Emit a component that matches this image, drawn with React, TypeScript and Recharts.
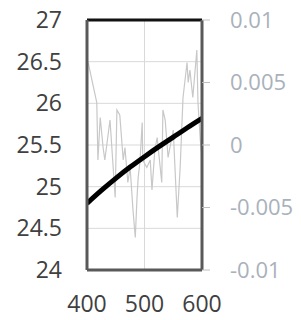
import React from "react";
import {
  CartesianGrid,
  Line,
  LineChart,
  ReferenceLine,
  XAxis,
  YAxis,
} from "recharts";

// Smooth trend (left axis)
const trendX = [400, 425, 450, 475, 500, 525, 550, 575, 600];
const trendY = [24.8, 24.955, 25.1, 25.235, 25.36, 25.48, 25.595, 25.71, 25.82];

// Noisy residual (right axis)
const noiseX = [
  402, 417, 419, 423, 428, 431, 440, 449, 452, 457, 463, 466, 471, 475, 480,
  484, 487, 489, 492, 496, 497, 504, 510, 513, 518, 522, 530, 532, 536, 541,
  550, 557, 562, 567, 574, 576, 579, 584, 591, 593, 597, 600,
];
const noiseY = [
  0.0066, 0.0034, -0.0012, 0.0022, -0.0002, -0.0012, 0.002, -0.0042, 0.0028,
  0.0024, -0.0012, -0.0002, -0.003, -0.0018, -0.0052, -0.0074, -0.0042,
  -0.0026, -0.0014, 0.0018, -0.0012, -0.0018, -0.0012, -0.0036, -0.0004,
  0.0006, -0.003, 0.0028, 0.002, -0.001, 0.0012, -0.0058, -0.0018, 0.0038,
  0.0066, 0.005, 0.006, 0.0038, 0.0076, 0.0034, 0.0004, -0.001,
];

const xTicks = [400, 500, 600];
const leftTicks = [24, 24.5, 25, 25.5, 26, 26.5, 27];
const rightTicks = [-0.01, -0.005, 0, 0.005, 0.01];

const trendData = trendX.map((x, i) => ({ x, v: trendY[i] }));
const noiseData = noiseX.map((x, i) => ({ x, v: noiseY[i] }));

const FONT = "'Open Sans', sans-serif";

export default function App() {
  return (
    <div style={{ position: "absolute", left: 0, top: 0, width: 301, height: 320 }}>
      <LineChart
        width={301}
        height={320}
        margin={{ top: 20, right: 0, bottom: 0, left: 0 }}
        style={{ fontFamily: FONT }}
      >
        <CartesianGrid yAxisId="left" stroke="#d9d9d9" strokeWidth={1} />
        <XAxis
          dataKey="x"
          type="number"
          domain={[400, 600]}
          ticks={xTicks}
          height={50}
          tickSize={0}
          tickMargin={26}
          tickLine={false}
          axisLine={{ stroke: "#595959", strokeWidth: 3 }}
          tick={{ fill: "#404040", fontSize: 23, fontFamily: FONT }}
          allowDataOverflow
        />
        <YAxis
          yAxisId="left"
          domain={[24, 27]}
          ticks={leftTicks}
          width={87}
          tickSize={0}
          tickMargin={25}
          tickLine={false}
          axisLine={{ stroke: "#595959", strokeWidth: 3 }}
          tick={{ fill: "#404040", fontSize: 23, fontFamily: FONT }}
          interval={0}
        />
        <YAxis
          yAxisId="right"
          orientation="right"
          domain={[-0.01, 0.01]}
          ticks={rightTicks}
          width={99}
          tickSize={8}
          tickMargin={20}
          tickLine={{ stroke: "#bfbfbf" }}
          axisLine={{ stroke: "#595959", strokeWidth: 3 }}
          tick={{ fill: "#a9b1bb", fontSize: 22, fontFamily: FONT }}
          interval={0}
        />
        <ReferenceLine yAxisId="left" y={27} stroke="#111" strokeWidth={3} />
        <Line
          yAxisId="right"
          data={noiseData}
          dataKey="v"
          stroke="#c8c8c8"
          strokeWidth={1.2}
          dot={false}
          isAnimationActive={false}
        />
        <Line
          yAxisId="left"
          data={trendData}
          dataKey="v"
          type="natural"
          stroke="#000"
          strokeWidth={5}
          dot={false}
          isAnimationActive={false}
        />
      </LineChart>
    </div>
  );
}
